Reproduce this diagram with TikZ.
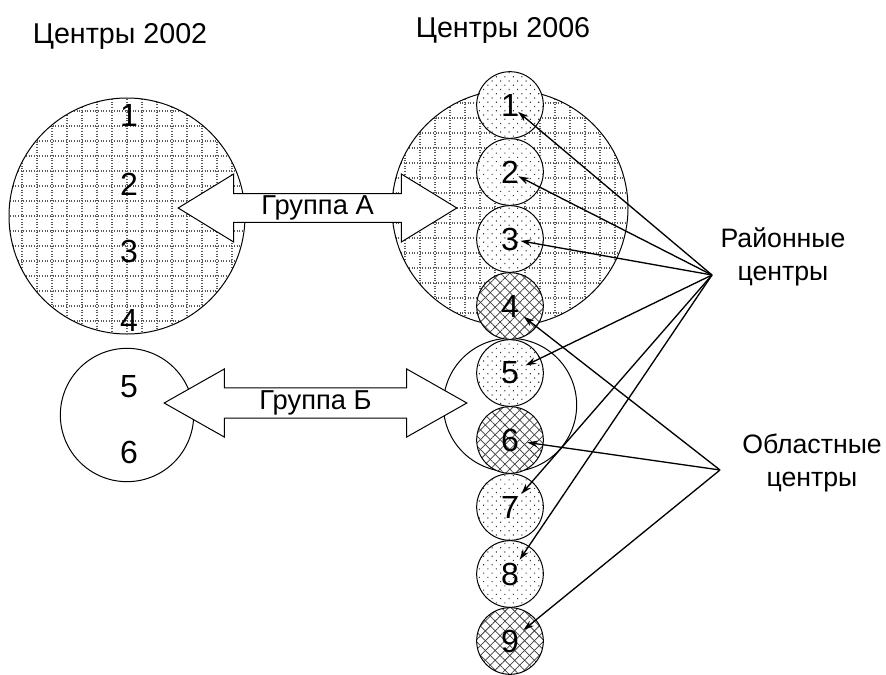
\documentclass[tikz,border=0pt]{standalone}
\usepackage{fontspec}
\setmainfont{Liberation Sans}
\usetikzlibrary{patterns.meta,arrows.meta,shapes.arrows}

\tikzset{
  lbl/.style={font=\fontsize{20}{25}\selectfont, inner sep=0pt},
  num/.style={font=\fontsize{24}{28}\selectfont, inner sep=0pt},
  gridln/.style={black!65, line width=0.8pt, dash pattern=on 0.8pt off 1.2pt},
  bigc/.style={circle, draw, line width=0.75pt, minimum size=177pt, inner sep=0pt,
    path picture={
      \foreach \k in {-8,...,8}{
        \draw[gridln] ([shift={(\k*15,-125)}]path picture bounding box.center) -- ([shift={(\k*15,125)}]path picture bounding box.center);
        \draw[gridln] ([shift={(-125,\k*15)}]path picture bounding box.center) -- ([shift={(125,\k*15)}]path picture bounding box.center);
      }}},
  midc/.style={circle, draw, line width=0.75pt, minimum size=100pt, inner sep=0pt, fill=white},
  dotc/.style={circle, draw, line width=0.75pt, minimum size=50pt, inner sep=0pt, num,
    preaction={fill=white},
    pattern={Dots[distance=4.5pt,angle=45,radius=0.6pt]}, pattern color=black!80},
  hatc/.style={circle, draw, line width=0.75pt, minimum size=50pt, inner sep=0pt, num,
    preaction={fill=white},
    preaction={pattern={Lines[angle=45,distance=5.2pt,line width=0.55pt]}, pattern color=black!75},
    pattern={Lines[angle=-45,distance=5.2pt,line width=0.55pt]}, pattern color=black!75},
  grp/.style={double arrow, draw, fill=white, line width=0.75pt,
    font=\fontsize{20.5}{25}\selectfont, inner sep=0pt, minimum width=51pt},
  con/.style={-{Stealth[length=8pt,width=5pt]}, line width=1pt, shorten >=13pt}
}

\begin{document}
\begin{tikzpicture}[x=0.75pt, y=-0.75pt]
  \useasboundingbox (0,0) rectangle (886,675);

  \node[lbl, font=\fontsize{21.5}{25}\selectfont, anchor=base] (h1) at (120,43) {Центры 2002};
  \node[lbl, font=\fontsize{21.5}{25}\selectfont, anchor=base] (h2) at (503,37) {Центры 2006};

  \node[bigc] (old1) at (127,216) {};
  \node[midc] (old2) at (127,415) {};
  \node[bigc] (new1) at (510,208) {};
  \node[midc] (new2) at (510,405) {};

  \node[num] (o1) at (129,115) {1};
  \node[num] (o2) at (129,184) {2};
  \node[num] (o3) at (129,251) {3};
  \node[num] (o4) at (129,320) {4};
  \node[num] (o5) at (129,387) {5};
  \node[num] (o6) at (129,452) {6};

  \foreach \i/\s in {1/dotc,2/dotc,3/dotc,4/hatc,5/dotc,6/hatc,7/dotc,8/dotc,9/hatc}
    \node[\s] (c\i) at (510,{105+67*(\i-1)}) {\i};

  \node[grp, minimum height=209pt, double arrow head extend=13pt, double arrow tip angle=63] (ga) at (317.5,208) {Группа А};
  \node[grp, minimum height=227pt, double arrow head extend=12pt, double arrow tip angle=59] (gb) at (315.5,403) {Группа Б};

  \node[lbl, align=center] (rt) at (783,257) {Районные\\центры};
  \node[lbl, align=center] (ot) at (812,463) {Областные\\центры};
  \coordinate (ray) at (712,275);
  \coordinate (obl) at (720,470);

  \draw[con, shorten >=8pt] (ray) -- (c1.center);
  \draw[con, shorten >=7pt] (ray) -- (c2.center);
  \draw[con, shorten >=8pt] (ray) -- (c3.center);
  \draw[con] (ray) -- (c5.center);
  \draw[con] (ray) -- (c7.center);
  \draw[con] (ray) -- (c8.center);
  \draw[con] (obl) -- (c4.center);
  \draw[con] (obl) -- (c6.center);
  \draw[con] (obl) -- (c9.center);
\end{tikzpicture}
\end{document}
